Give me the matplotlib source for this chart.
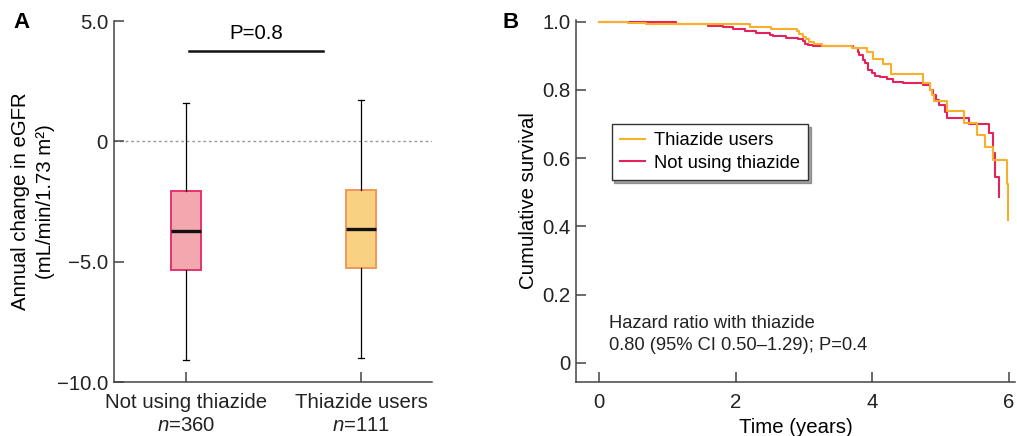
import matplotlib
matplotlib.use("Agg")
import matplotlib.pyplot as plt

plt.rcParams["font.family"] = ["Liberation Sans", "DejaVu Sans"]
plt.rcParams["mathtext.fontset"] = "custom"
plt.rcParams["mathtext.rm"] = "Liberation Sans"
plt.rcParams["mathtext.it"] = "Liberation Sans:italic"

# ---- panel A data: annual change in eGFR (box plot summary) ----
groups = ["Not using thiazide", "Thiazide users"]
group_n = [360, 111]
whisker_low = [-9.1, -9.0]
q1 = [-5.35, -5.25]
median = [-3.72, -3.64]
q3 = [-2.08, -2.03]
whisker_high = [1.6, 1.7]
p_box = "P=0.8"

# ---- panel B data: Kaplan-Meier survival ----
thz_time = [0, 0.42, 0.68, 2.21, 2.52, 2.89, 2.93, 2.98, 3.03, 3.08, 3.15,
            3.26, 3.70, 3.92, 4.01, 4.16, 4.28, 4.74, 4.84, 4.87, 4.91, 5.09,
            5.34, 5.53, 5.65, 5.77, 5.97, 5.99]
thz_surv = [1.000, 0.997, 0.992, 0.985, 0.978, 0.972, 0.965, 0.955, 0.948,
            0.940, 0.935, 0.929, 0.923, 0.912, 0.890, 0.875, 0.847, 0.820,
            0.800, 0.785, 0.767, 0.739, 0.704, 0.668, 0.632, 0.594, 0.524,
            0.418]
non_time = [0, 1.13, 1.60, 1.82, 1.96, 2.13, 2.30, 2.50, 2.55, 2.74, 2.91,
            2.98, 3.01, 3.06, 3.13, 3.72, 3.79, 3.81, 3.86, 3.89, 3.94, 3.99,
            4.04, 4.11, 4.21, 4.30, 4.45, 4.74, 4.84, 4.89, 4.94, 4.98, 5.06,
            5.10, 5.42, 5.71, 5.77, 5.79, 5.85]
non_surv = [1.000, 0.994, 0.987, 0.984, 0.980, 0.973, 0.967, 0.960, 0.957,
            0.953, 0.948, 0.943, 0.935, 0.931, 0.928, 0.923, 0.912, 0.902,
            0.888, 0.878, 0.858, 0.849, 0.842, 0.837, 0.831, 0.824, 0.819,
            0.814, 0.800, 0.785, 0.770, 0.756, 0.736, 0.717, 0.699, 0.673,
            0.614, 0.545, 0.485]
hazard_text = "Hazard ratio with thiazide\n0.80 (95% CI 0.50\u20131.29); P=0.4"

ORANGE = "#F6B02A"
RED = "#E3245B"
box_fill = ["#F2A8AE", "#F8D282"]
box_edge = ["#E5346A", "#F0985A"]
AX_COL = "#444444"
FS = 14.7

W, H = 1017, 436
fig = plt.figure(figsize=(W / 100, H / 100), dpi=100)
axA = fig.add_axes([113.5 / W, 1 - 382 / H, (432 - 113.5) / W, (382 - 21) / H])
axB = fig.add_axes([576 / W, 1 - 382 / H, (1015 - 576) / W, (382 - 20) / H])

for ax in (axA, axB):
    for side in ("top", "right"):
        ax.spines[side].set_visible(False)
    for side in ("left", "bottom"):
        ax.spines[side].set_color(AX_COL)
        ax.spines[side].set_linewidth(1.1)
    ax.tick_params(direction="in", length=7, width=1.1, color=AX_COL,
                   labelsize=FS, labelcolor="#222222")
    ax.tick_params(axis="y", pad=4)
    ax.tick_params(axis="x", pad=8)

# ---- panel A ----
stats = []
for i in range(len(groups)):
    stats.append({"whislo": whisker_low[i], "q1": q1[i], "med": median[i],
                  "q3": q3[i], "whishi": whisker_high[i], "fliers": []})
bp = axA.bxp(stats, positions=[1, 2], widths=0.17, patch_artist=True,
             showfliers=False, capwidths=0.035,
             whiskerprops={"color": "black", "linewidth": 0.9},
             capprops={"color": "black", "linewidth": 0.9},
             medianprops={"color": "#111111", "linewidth": 2.4})
for patch, fc, ec in zip(bp["boxes"], box_fill, box_edge):
    patch.set_facecolor(fc)
    patch.set_edgecolor(ec)
    patch.set_linewidth(1.4)

axA.axhline(0, color="#999999", linewidth=1.0, linestyle=(0, (2, 2)), zorder=0)
axA.set_xlim(0.586, 2.406)
axA.set_ylim(-10, 5)
axA.set_yticks([5, 0, -5, -10])
axA.set_yticklabels(["5.0", "0", "\u22125.0", "\u221210.0"])
axA.set_xticks([1, 2])
axA.set_xticklabels([f"{g}\n$n$={n}" for g, n in zip(groups, group_n)],
                    linespacing=1.25)
axA.set_ylabel("Annual change in eGFR\n(mL/min/1.73 m\u00b2)", fontsize=FS,
               linespacing=1.4, labelpad=1)
axA.plot([1.017, 1.783], [3.75, 3.75], color="#111111", linewidth=1.8)
axA.text(1.40, 4.5, p_box, ha="center", va="center", fontsize=FS)

# ---- panel B ----
axB.step(non_time, non_surv, where="post", color=RED, linewidth=1.5,
         label="Not using thiazide")
axB.step(thz_time, thz_surv, where="post", color=ORANGE, linewidth=1.5,
         label="Thiazide users")
axB.set_xlim(-0.34, 6.09)
axB.set_ylim(-0.0566, 1.005)
axB.set_xticks([0, 2, 4, 6])
axB.set_yticks([0, 0.2, 0.4, 0.6, 0.8, 1.0])
axB.set_yticklabels(["0", "0.2", "0.4", "0.6", "0.8", "1.0"])
axB.set_xlabel("Time (years)", fontsize=FS, labelpad=4)
axB.set_ylabel("Cumulative survival", fontsize=FS, labelpad=3)
handles, labels = axB.get_legend_handles_labels()
leg = axB.legend(handles[::-1], labels[::-1], loc="upper left",
                 bbox_to_anchor=(0.081, 0.713), borderaxespad=0,
                 fontsize=13.2, frameon=True, fancybox=False, shadow=True,
                 handlelength=1.35, handletextpad=0.5, labelspacing=0.3,
                 borderpad=0.45)
leg.get_frame().set_edgecolor("#333333")
leg.get_frame().set_linewidth(1.0)
axB.text(0.14, 0.082, hazard_text, ha="left", va="center", fontsize=13.2,
         linespacing=1.35, color="#222222")

fig.text(13 / W, 1 - 23 / H, "A", fontsize=16, fontweight="bold",
         ha="left", va="center")
fig.text(502 / W, 1 - 23 / H, "B", fontsize=16, fontweight="bold",
         ha="left", va="center")

fig.savefig("out.png", dpi=100)
